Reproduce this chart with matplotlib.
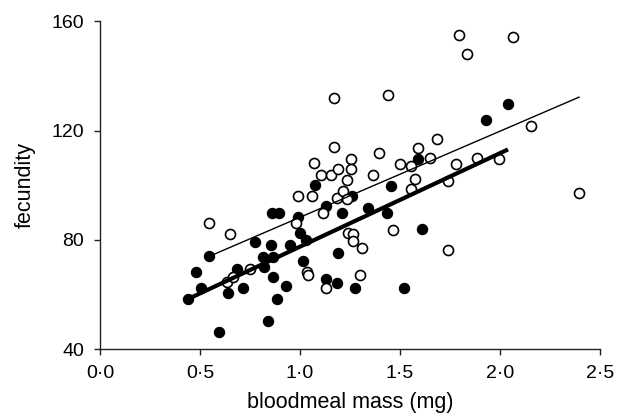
import matplotlib
matplotlib.use("Agg")
import matplotlib.pyplot as plt
import numpy as np

plt.rcParams['font.family'] = ['Liberation Sans', 'DejaVu Sans']

# filled circles
filled_x = [0.44, 0.48, 0.505, 0.545, 0.595, 0.64, 0.685, 0.715, 0.775, 0.815,
            0.82, 0.84, 0.855, 0.86, 0.865, 0.865, 0.885, 0.895, 0.93, 0.95,
            0.99, 1.0, 1.015, 1.03, 1.075, 1.13, 1.13, 1.185, 1.19, 1.21,
            1.26, 1.275, 1.34, 1.435, 1.455, 1.52, 1.59, 1.61, 1.93, 2.04]
filled_y = [58.4, 68.3, 62.4, 74.1, 46.3, 60.6, 69.4, 62.4, 79.3, 73.8,
            70.1, 50.3, 78.2, 89.9, 73.8, 66.5, 58.4, 89.9, 63.1, 78.2,
            88.4, 82.6, 72.3, 80.0, 100.1, 92.4, 65.7, 64.3, 75.3, 89.9,
            96.1, 62.4, 91.7, 89.9, 99.7, 62.4, 109.6, 84.0, 124.0, 129.8]

# open circles
open_x = [0.545, 0.635, 0.65, 0.665, 0.75, 0.98, 0.99, 1.035, 1.04, 1.06,
          1.07, 1.105, 1.115, 1.13, 1.155, 1.17, 1.17, 1.185, 1.19, 1.215,
          1.235, 1.235, 1.24, 1.255, 1.255, 1.265, 1.265, 1.30, 1.31, 1.365,
          1.395, 1.44, 1.465, 1.50, 1.555, 1.555, 1.575, 1.59, 1.65, 1.685,
          1.74, 1.74, 1.78, 1.795, 1.835, 1.885, 1.995, 2.065, 2.155, 2.395]
open_y = [86.2, 64.6, 82.2, 66.5, 69.4, 86.2, 96.1, 68.3, 67.2, 96.1,
          108.2, 103.8, 89.9, 62.4, 103.8, 132.0, 114.0, 95.4, 106.0, 97.9,
          95.0, 102.0, 82.6, 109.6, 106.0, 82.2, 79.6, 67.2, 77.0, 103.8,
          111.8, 133.0, 83.6, 107.8, 107.0, 98.6, 102.3, 113.7, 110.0, 117.0,
          101.6, 76.3, 107.8, 155.0, 148.0, 110.0, 109.6, 154.3, 121.7, 97.2]

# regression lines (slope, intercept)
filled_fit = (34.2, 43.35)
open_fit = (31.5, 56.8)

xticks = [0.0, 0.5, 1.0, 1.5, 2.0, 2.5]
xticklabels = ['0·0', '0·5', '1·0', '1·5', '2·0', '2·5']
yticks = [40, 80, 120, 160]

fig = plt.figure(figsize=(6.27, 4.16), dpi=100)
ax = fig.add_axes([100 / 627, 66.7 / 416, 500 / 627, 328 / 416])

ax.scatter(filled_x, filled_y, s=52, c='black', edgecolors='black',
           linewidths=1.0, zorder=2, clip_on=False)
ax.scatter(open_x, open_y, s=52, c='white', edgecolors='black',
           linewidths=1.2, zorder=3, clip_on=False)

xf = np.array([min(filled_x), max(filled_x)])
ax.plot(xf, filled_fit[0] * xf + filled_fit[1], color='black', lw=3.0,
        solid_capstyle='butt', zorder=4)
xo = np.array([min(open_x), max(open_x)])
ax.plot(xo, open_fit[0] * xo + open_fit[1], color='black', lw=1.0, zorder=4)

ax.set_xlim(0, 2.5)
ax.set_ylim(40, 160)
ax.set_xticks(xticks)
ax.set_xticklabels(xticklabels)
ax.set_yticks(yticks)

for s in ['top', 'right']:
    ax.spines[s].set_visible(False)
for s in ['left', 'bottom']:
    ax.spines[s].set_linewidth(1.0)
    ax.spines[s].set_color('#222222')

ax.tick_params(direction='out', length=4.5, width=1.0, pad=7,
               labelsize=14, colors='#222222', labelcolor='black')

ax.set_xlabel('bloodmeal mass (mg)', fontsize=15.5, labelpad=7)
ax.set_ylabel('fecundity', fontsize=15.5, labelpad=11)

fig.savefig('out.png', dpi=100)
